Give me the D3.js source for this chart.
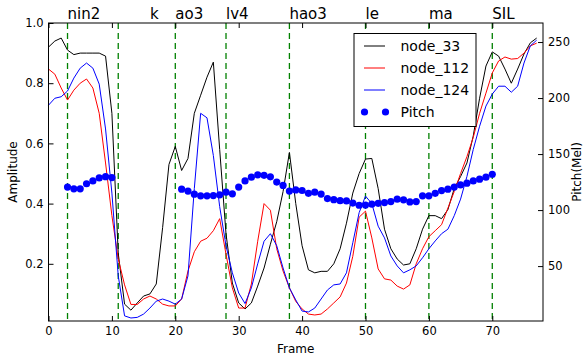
<!DOCTYPE html>
<html>
<head>
<meta charset="utf-8">
<script src="https://cdn.jsdelivr.net/npm/d3@7"></script>
<style>
  body { margin: 0; background: #fff; }
  svg { font-family: 'DejaVu Sans', sans-serif; }
</style>
</head>
<body>
<div class="chart"></div>
<script>
// amplitude per frame (frame = index, 0..77)
const node33 = [
  0.92, 0.94, 0.95, 0.91, 0.895, 0.90, 0.90, 0.90, 0.90, 0.89,
  0.70, 0.235, 0.066, 0.046, 0.07, 0.093, 0.10, 0.133, 0.32, 0.53,
  0.59, 0.51, 0.55, 0.70, 0.76, 0.82, 0.87, 0.58, 0.30, 0.136,
  0.07, 0.05, 0.07, 0.126, 0.186, 0.265, 0.34, 0.44, 0.57, 0.40,
  0.26, 0.18, 0.17, 0.175, 0.175, 0.20, 0.25, 0.335, 0.435, 0.50,
  0.548, 0.55, 0.45, 0.315, 0.25, 0.216, 0.196, 0.20, 0.25, 0.315,
  0.36, 0.36, 0.35, 0.38, 0.45, 0.49, 0.535, 0.625, 0.75, 0.857,
  0.904, 0.89, 0.847, 0.80, 0.847, 0.897, 0.934, 0.95
];
const node112 = [
  0.847, 0.83, 0.784, 0.744, 0.777, 0.80, 0.814, 0.784, 0.70, 0.535,
  0.36, 0.216, 0.13, 0.065, 0.065, 0.083, 0.093, 0.083, 0.066, 0.06,
  0.06, 0.083, 0.176, 0.24, 0.275, 0.285, 0.31, 0.35, 0.232, 0.12,
  0.053, 0.053, 0.133, 0.275, 0.40, 0.378, 0.25, 0.176, 0.12, 0.075,
  0.05, 0.033, 0.03, 0.033, 0.05, 0.07, 0.09, 0.136, 0.225, 0.355,
  0.375, 0.286, 0.183, 0.15, 0.146, 0.126, 0.116, 0.13, 0.20, 0.25,
  0.29, 0.31, 0.33, 0.385, 0.44, 0.50, 0.556, 0.62, 0.70, 0.767,
  0.834, 0.874, 0.887, 0.88, 0.882, 0.90, 0.924, 0.933
];
const node124 = [
  0.727, 0.75, 0.755, 0.774, 0.817, 0.85, 0.867, 0.85, 0.797, 0.648,
  0.435, 0.16, 0.027, 0.02, 0.022, 0.033, 0.053, 0.076, 0.083, 0.076,
  0.066, 0.083, 0.16, 0.45, 0.70, 0.685, 0.56, 0.39, 0.26, 0.17,
  0.103, 0.068, 0.12, 0.20, 0.275, 0.30, 0.26, 0.186, 0.12, 0.08,
  0.043, 0.04, 0.053, 0.083, 0.113, 0.13, 0.133, 0.17, 0.27, 0.37,
  0.425, 0.40, 0.325, 0.286, 0.226, 0.193, 0.17, 0.18, 0.193, 0.22,
  0.25, 0.276, 0.30, 0.315, 0.36, 0.415, 0.49, 0.58, 0.657, 0.724,
  0.764, 0.79, 0.79, 0.77, 0.79, 0.867, 0.924, 0.943
];
// pitch in Mel per frame, null where unvoiced
const pitch = [
  null, null, null, 120.5, 119, 119, 123.5, 126, 128.7, 129.8,
  129, null, null, null, null, null, null, null, null, null,
  null, 118.7, 117, 114.2, 112.7, 112.7, 113, 113.6, 116, 114.5,
  120.5, 126, 129.4, 131.5, 131, 129.7, 125, 122, 117, 118,
  117.5, 115, 116, 114.3, 110.3, 109.3, 108.4, 108.2, 106.3, 104.3,
  104.5, 105.3, 106, 106.7, 107.6, 109.7, 109.2, 107.3, 107.6, 112.7,
  112.7, 115, 117.4, 118.7, 120.5, 122.5, 124, 126, 127.6, 129.4,
  132, null, null, null, null, null, null, null
];
// phone boundaries (green dashed) and phone labels on top
const boundaries = [3, 11, 20, 28, 38, 50, 60, 70];
const phones = ['nin2', 'k', 'ao3', 'lv4', 'hao3', 'le', 'ma', 'SIL'];
const phoneFrames = [3, 16, 20, 28, 38, 50, 60, 70];

const xTicks = [0, 10, 20, 30, 40, 50, 60, 70];
const ampTicks = [0.2, 0.4, 0.6, 0.8, 1.0];
const melTicks = [50, 100, 150, 200, 250];

const W = 584, H = 358;
const margin = {top: 23, right: 41, bottom: 37, left: 48.5};
const w = W - margin.left - margin.right;
const h = H - margin.top - margin.bottom;

const svg = d3.select('.chart').append('svg')
    .attr('width', W)
    .attr('height', H);
const g = svg.append('g')
    .attr('transform', `translate(${margin.left},${margin.top})`);

const x = d3.scaleLinear().domain([0, 78]).range([0, w]);
const y = d3.scaleLinear().domain([0.01, 1.0]).range([h, 0]);
const y2 = d3.scaleLinear().domain([1, 267]).range([h, 0]);

// boundaries
g.selectAll('.bound')
    .data(boundaries)
  .enter().append('line')
    .attr('class', 'bound')
    .attr('x1', d => x(d)).attr('x2', d => x(d))
    .attr('y1', 0).attr('y2', h)
    .attr('stroke', '#008000')
    .attr('stroke-width', 1.3)
    .attr('stroke-dasharray', '6,4');

const series = [
  {name: 'node_33', values: node33, color: '#000000'},
  {name: 'node_112', values: node112, color: '#ff0000'},
  {name: 'node_124', values: node124, color: '#0000ff'}
];

const line = d3.line()
    .x((d, i) => x(i))
    .y(d => y(d));

g.selectAll('.series')
    .data(series)
  .enter().append('path')
    .attr('class', 'series')
    .attr('d', d => line(d.values))
    .attr('fill', 'none')
    .attr('stroke', d => d.color)
    .attr('stroke-width', 1);

g.selectAll('.pitch')
    .data(pitch.map((p, i) => ({f: i, p: p})).filter(d => d.p != null))
  .enter().append('circle')
    .attr('class', 'pitch')
    .attr('cx', d => x(d.f))
    .attr('cy', d => y2(d.p))
    .attr('r', 3.6)
    .attr('fill', '#0000ff');

// axes (ticks inside)
const tickFont = 11.5;
const xAxis = g.append('g')
    .attr('transform', `translate(0,${h})`)
    .call(d3.axisBottom(x).tickValues(xTicks).tickSize(-5).tickPadding(6).tickFormat(d3.format('d')));
g.append('g')
    .call(d3.axisTop(x).tickValues(xTicks).tickSize(-5).tickFormat(''));
g.append('g')
    .call(d3.axisLeft(y).tickValues(ampTicks).tickSize(-5).tickPadding(5).tickFormat(d3.format('.1f')));
g.append('g')
    .attr('transform', `translate(${w},0)`)
    .call(d3.axisRight(y2).tickValues(melTicks).tickSize(-5).tickPadding(5).tickFormat(d3.format('d')));

g.selectAll('.domain').remove();
g.selectAll('.tick line').attr('stroke', '#000');
g.selectAll('.tick text')
    .attr('fill', '#000')
    .style('font-size', tickFont + 'px')
    .style('font-family', "'DejaVu Sans', sans-serif");

g.append('rect')
    .attr('width', w).attr('height', h)
    .attr('fill', 'none')
    .attr('stroke', '#000')
    .attr('stroke-width', 1);

// phone labels
g.selectAll('.phone')
    .data(phones)
  .enter().append('text')
    .attr('class', 'phone')
    .attr('x', (d, i) => x(phoneFrames[i]))
    .attr('y', -4)
    .style('font-size', '15px')
    .text(d => d);

// axis titles
svg.append('text')
    .attr('x', margin.left + w / 2)
    .attr('y', 353)
    .attr('text-anchor', 'middle')
    .style('font-size', '12px')
    .text('Frame');
svg.append('text')
    .attr('transform', `translate(17,${margin.top + h / 2}) rotate(-90)`)
    .attr('text-anchor', 'middle')
    .style('font-size', '12px')
    .text('Amplitude');
svg.append('text')
    .attr('transform', `translate(581,${margin.top + h / 2}) rotate(-90)`)
    .attr('text-anchor', 'middle')
    .style('font-size', '12px')
    .text('Pitch(Mel)');

// legend
const lg = svg.append('g').attr('transform', 'translate(354,33.5)');
lg.append('rect')
    .attr('width', 122).attr('height', 93)
    .attr('fill', '#fff')
    .attr('stroke', '#000')
    .attr('stroke-width', 1);

const rows = series.concat([{name: 'Pitch', color: '#0000ff', dots: true}]);
const row = lg.selectAll('.row')
    .data(rows)
  .enter().append('g')
    .attr('transform', (d, i) => `translate(0,${12.5 + i * 22})`);

row.filter(d => !d.dots).append('line')
    .attr('x1', 10).attr('x2', 31)
    .attr('stroke', d => d.color)
    .attr('stroke-width', 1);
row.filter(d => d.dots).selectAll('circle')
    .data([10.5, 31.5])
  .enter().append('circle')
    .attr('cx', d => d)
    .attr('r', 3.6)
    .attr('fill', '#0000ff');
row.append('text')
    .attr('x', 46.5)
    .attr('dy', '0.35em')
    .style('font-size', '14px')
    .text(d => d.name);
</script>
</body>
</html>
